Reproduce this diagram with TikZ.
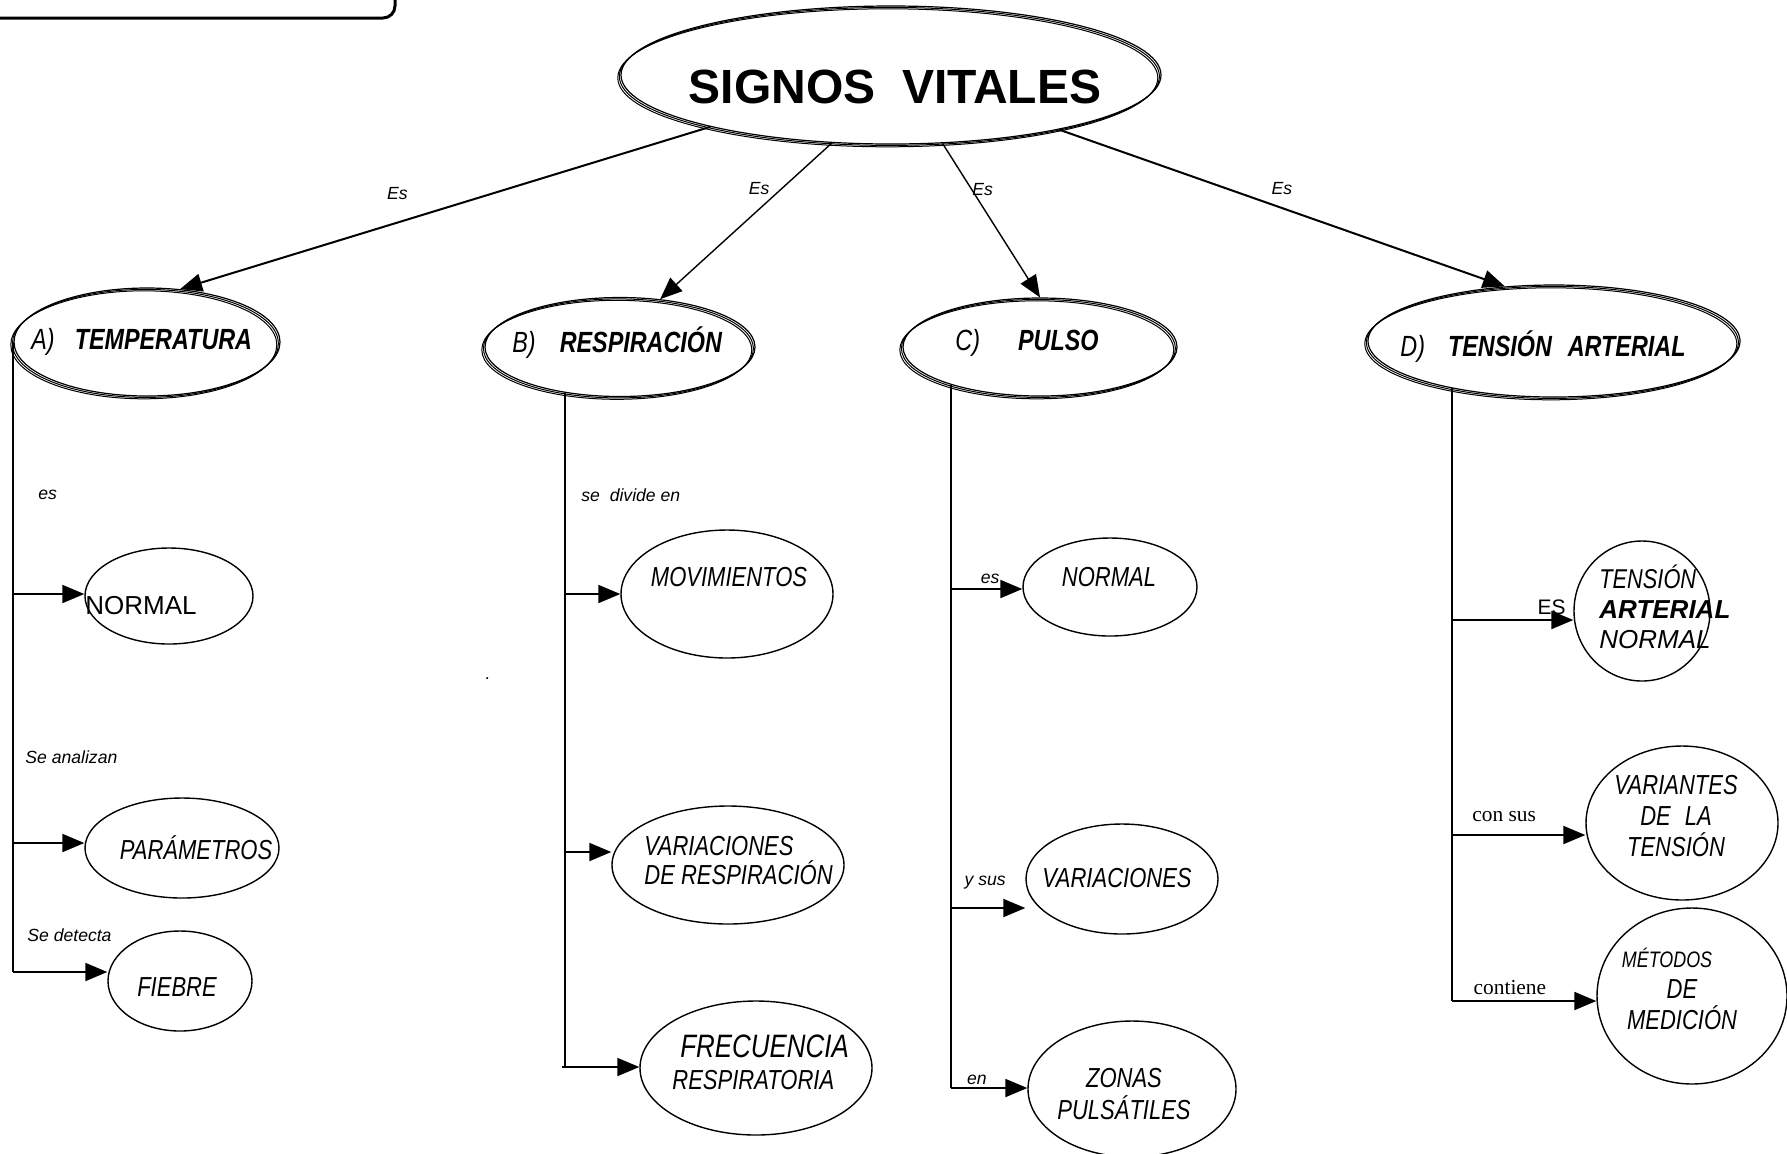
\documentclass[tikz,border=0pt]{standalone}
\usepackage{fontspec}
\setmainfont{Liberation Sans}
\newfontfamily\timesfont{Liberation Serif}
\newfontfamily\narrowfont{Liberation Sans}[FakeStretch=0.8]
\usetikzlibrary{shapes.geometric,arrows.meta}

\begin{document}
\begin{tikzpicture}[x=0.5pt, y=-0.5pt,
    tripleoval/.style={ellipse, draw, line width=0.6pt, inner sep=0pt,
        preaction={draw, line width=0.5pt, transform canvas={shift={(-0.8pt,-0.7pt)}}},
        preaction={draw, line width=0.5pt, transform canvas={shift={(-1.6pt,-1.4pt)}}}},
    oval/.style={ellipse, draw, line width=0.7pt, inner sep=0pt},
    arr/.style={-{Triangle[length=11pt, width=9pt]}, line width=1pt},
    trunk/.style={line width=1pt},
    lbl/.style={font=\fontsize{8.8}{10}\selectfont\itshape, inner sep=1pt},
    tag/.style={font=\fontsize{10.5}{12}\selectfont, inner sep=1pt},
    head/.style={font=\narrowfont\fontsize{14.6}{16}\selectfont\itshape, inner sep=0pt, anchor=west},
    txt/.style={font=\narrowfont\fontsize{13.75}{15.5}\selectfont\itshape, inner sep=0pt}
    ]
        \useasboundingbox (0,0) rectangle (1787,1153);

        %Title box
        \draw[line width=1.5pt, rounded corners=6pt] (-20,-40) rectangle (395,18);

        %Nodes
        \node[tripleoval, minimum width=270pt, minimum height=69pt]
            (signos) at (891,75) {};
        \node[font=\fontsize{24}{26}\selectfont\bfseries, inner sep=0pt]
            (tSignos) at (895,87) {SIGNOS\ \ VITALES};

        \node[tripleoval, minimum width=133pt, minimum height=54pt]
            (tempe) at (147,342) {};
        \node[head] (tTempe) at (31,342) {A)\hspace{10pt}\textbf{TEMPERATURA}};
        \node[tripleoval, minimum width=135pt, minimum height=49.5pt]
            (resp) at (620,347) {};
        \node[head] (tResp) at (512,343) {B)\hspace{12pt}\textbf{RESPIRACIÓN}};
        \node[tripleoval, minimum width=137pt, minimum height=49pt]
            (pulso) at (1040,347) {};
        \node[head] (tPulso) at (955,343) {C)\hspace{19pt}\textbf{PULSO}};
        \node[tripleoval, minimum width=186pt, minimum height=56pt]
            (tension) at (1554,341) {};
        \node[head] (tTension) at (1400,347) {D)\hspace{11.5pt}\textbf{TENSIÓN\hspace{8pt}ARTERIAL}};

        %Lines
        \draw[arr]
            (signos.196) -- node[lbl, pos=0.59, above=10pt] (es1) {Es} (tempe.58);
        \draw[arr, line width=0.7pt]
            (signos.229) -- node[lbl, pos=0.29, left=5pt] (es2) {Es} (resp.50);
        \draw[arr, line width=0.7pt]
            (signos.307) -- node[lbl, pos=0.3, right=-1pt] (es3) {Es} (pulso.north);
        \draw[arr]
            (signos.342) -- node[lbl, pos=0.5, above=5pt] (es4) {Es} (tension.132);

        %A) temperatura
        \node[oval, minimum width=84pt, minimum height=48pt] (anormal) at (169,596) {};
        \node[font=\fontsize{13}{15}\selectfont, inner sep=0pt, anchor=west]
            (tANormal) at (85,606) {NORMAL};
        \node[oval, minimum width=97pt, minimum height=50pt] (param) at (182,848) {};
        \node[txt] (tParam) at (196,848) {PARÁMETROS};
        \node[oval, minimum width=72pt, minimum height=50pt] (fiebre) at (180,981) {};
        \node[txt] (tFiebre) at (177,987) {FIEBRE};

        \coordinate (a1) at (tempe.west |- 0,594);
        \coordinate (a2) at (tempe.west |- 0,843);
        \coordinate (a3) at (tempe.west |- 0,972);
        \draw[trunk] (tempe.west) -- (a3);
        \draw[arr] (a1) -- (anormal.west |- a1);
        \draw[arr] (a2) -- (param.west |- a2);
        \draw[arr] (a3) -- (fiebre.west |- a3);
        \node[lbl, anchor=west] (lAEs) at (36,495) {es};
        \node[lbl, anchor=west] (lAnalizan) at (23,757) {Se analizan};
        \node[lbl, anchor=west] (lDetecta) at (25,935) {Se detecta};

        %B) respiracion
        \node[oval, minimum width=106pt, minimum height=64pt] (movim) at (727,594) {};
        \node[txt] (tMovim) at (729,577) {MOVIMIENTOS};
        \node[oval, minimum width=116pt, minimum height=59pt] (varresp) at (728,865) {};
        \node[txt, align=left, anchor=west, font=\narrowfont\fontsize{13.75}{14.5}\selectfont\itshape]
            (tVarResp) at (644,861) {VARIACIONES\\DE RESPIRACIÓN};
        \node[oval, minimum width=116pt, minimum height=67pt] (frec) at (756,1068) {};
        \node[txt, align=left, anchor=west, font=\narrowfont\fontsize{13.75}{16}\selectfont\itshape]
            (tFrec) at (672,1062) {\hspace*{4pt}{\fontsize{16.2}{16}\selectfont FRECUENCIA}\\RESPIRATORIA};

        \coordinate (b1) at (resp.220 |- 0,594);
        \coordinate (b2) at (resp.220 |- 0,852);
        \coordinate (b3) at (562,1067);
        \draw[trunk] (resp.220) |- (b3);
        \draw[arr] (b1) -- (movim.west |- b1);
        \draw[arr] (b2) -- (varresp.west |- b2);
        \draw[arr] (b3) -- (frec.west |- b3);
        \node[lbl, anchor=west] (lDivide) at (579,495) {se\ \ divide en};
        \node[lbl] (lDot) at (488,679) {.};

        %C) pulso
        \node[oval, minimum width=87pt, minimum height=49pt] (cnormal) at (1110,587) {};
        \node[txt] (tCNormal) at (1109,577) {NORMAL};
        \node[oval, minimum width=96pt, minimum height=55pt] (cvar) at (1122,879) {};
        \node[txt] (tCVar) at (1117,878) {VARIACIONES};
        \node[oval, minimum width=104pt, minimum height=68pt] (zonas) at (1132,1089) {};
        \node[txt, align=center, font=\narrowfont\fontsize{13.75}{16}\selectfont\itshape]
            (tZonas) at (1124,1094) {ZONAS\\PULSÁTILES};

        \coordinate (c1) at (pulso.203 |- 0,589);
        \coordinate (c2) at (pulso.203 |- 0,908);
        \coordinate (c3) at (pulso.203 |- 0,1088);
        \draw[trunk] (pulso.203) -- (c3);
        \draw[arr] (c1) -- node[lbl, pos=0.55, above=1pt] (lCEs) {es} (cnormal.west |- c1);
        \draw[arr] (c2) -- node[lbl, pos=0.46, above=8pt] (lYsus) {y sus} (cvar.west |- c2);
        \draw[arr] (c3) -- node[lbl, pos=0.34, above=0pt] (lEn) {en} (zonas.west |- c3);

        %D) tension arterial
        \node[oval, minimum width=68pt, minimum height=70pt] (tanorm) at (1642,611) {};
        \node[txt, align=left, anchor=west, font=\narrowfont\fontsize{13.6}{15}\selectfont\itshape]
            (tTANorm) at (1599,607) {TENSIÓN\\{\normalfont\fontsize{13}{15}\selectfont\bfseries\itshape ARTERIAL}\\{\normalfont\fontsize{13}{15}\selectfont\itshape NORMAL}};
        \node[oval, minimum width=96pt, minimum height=77pt] (tvar) at (1682,823) {};
        \node[txt, align=center] (tTVar) at (1676,816) {VARIANTES\\DE\hspace{7pt}LA\\TENSIÓN};
        \node[oval, minimum width=95pt, minimum height=88pt] (metodos) at (1692,996) {};
        \node[txt, align=center] (tMetodos) at (1682,989)
            {{\fontsize{11.2}{11}\selectfont MÉTODOS}\hspace*{15pt}\\DE\\MEDICIÓN};

        \coordinate (d1) at (tension.205 |- 0,620);
        \coordinate (d2) at (tension.205 |- 0,835);
        \coordinate (d3) at (tension.205 |- 0,1001);
        \draw[trunk] (tension.205) -- (d3);
        \draw[arr] (d1) -- node[tag, pos=0.82, above=1pt] (lES) {ES} (tanorm.west |- d1);
        \draw[arr] (d2) -- node[tag, pos=0.39, above=5pt, font=\fontsize{10.7}{12}\selectfont\timesfont]
            (lConsus) {con sus} (tvar.west |- d2);
        \draw[arr] (d3) -- node[tag, pos=0.4, above=1.5pt, font=\fontsize{10.7}{12}\selectfont\timesfont]
            (lContiene) {contiene} (metodos.west |- d3);
    \end{tikzpicture}
\end{document}
